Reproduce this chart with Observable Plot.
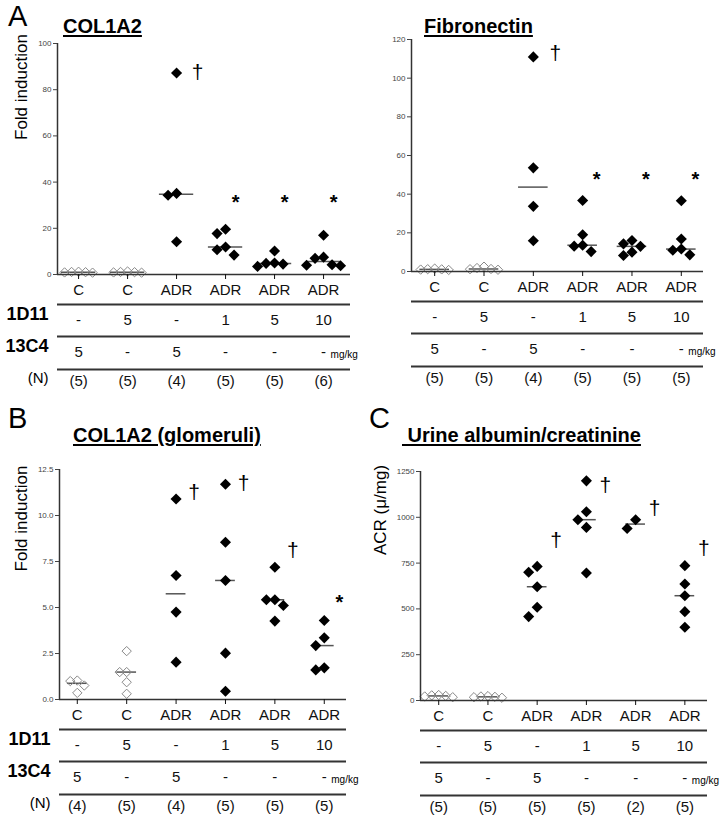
<!DOCTYPE html>
<html><head><meta charset="utf-8">
<script src="https://cdn.jsdelivr.net/npm/d3@7"></script>
<script src="https://cdn.jsdelivr.net/npm/@observablehq/plot@0.6"></script>
<style>
body{margin:0;background:#fff;}
#fig{position:relative;width:723px;height:815px;font-family:"Liberation Sans",Arial,sans-serif;overflow:hidden;background:#fff}
.abs{position:absolute;white-space:pre;line-height:1;color:#000}
.letter{font-size:29px;}
.title{font-size:20px;font-weight:bold;text-decoration:underline;text-decoration-thickness:2px;text-underline-offset:2px}
</style></head><body><div id="fig"></div>
<script>
// ---- categories / table rows ----
const groups = ["C","C","ADR","ADR","ADR","ADR"];
const dose1D11 = ["-","5","-","1","5","10"];
const dose13C4 = ["5","-","5","-","-","-"];

// ---- series values (one list per group) ----
const col1a2 = [
  [1.2, 0.8, 1.0, 0.9, 1.1],
  [1.1, 0.9, 1.3, 0.8, 1.0],
  [87.2, 35.1, 34.3, 14.2],
  [19.6, 17.7, 11.9, 10.7, 8.4],
  [10.2, 5.0, 4.8, 4.5, 3.5],
  [17.0, 7.5, 7.0, 4.2, 4.0, 3.8]
];
const fibronectin = [
  [1.0, 1.5, 0.8, 1.2, 1.1],
  [1.3, 2.5, 0.9, 1.8, 1.2],
  [111, 53.6, 33.7, 15.9],
  [36.7, 19.0, 13.6, 13.1, 10.3],
  [16.0, 14.3, 13.0, 10.0, 8.3],
  [36.6, 16.8, 11.6, 11.0, 8.6]
];
const col1a2Glom = [
  [1.0, 1.03, 0.76, 0.36],
  [2.63, 1.49, 1.49, 0.94, 0.31],
  [10.9, 6.74, 4.75, 2.03],
  [11.7, 8.55, 6.47, 2.52, 0.45],
  [7.19, 5.42, 5.42, 5.11, 4.26],
  [4.29, 3.35, 2.93, 1.72, 1.61]
];
const acr = [
  [25, 30, 18, 28, 22],
  [18, 24, 15, 22, 20],
  [732, 700, 621, 509, 458],
  [1199, 1030, 987, 945, 696],
  [987, 939],
  [736, 636, 572, 485, 400]
];

// ---- significance marks (group index, symbol, value level) ----
const sigCol1a2 = [{g:2,s:"†",y:87.4},{g:3,s:"*",y:33.3},{g:4,s:"*",y:33.3},{g:5,s:"*",y:33.3}];
const sigFibro = [{g:2,s:"†",y:112.8},{g:3,s:"*",y:50.2},{g:4,s:"*",y:50.2},{g:5,s:"*",y:50.2}];
const sigGlom = [{g:2,s:"†",y:11.25},{g:3,s:"†",y:11.74},{g:4,s:"†",y:8.1},{g:5,s:"*",y:5.54}];
const sigAcr = [{g:2,s:"†",y:873},{g:3,s:"†",y:1174},{g:4,s:"†",y:1048},{g:5,s:"†",y:830}];

// ---- tick labels ----
const ticksCol1a2 = [0,20,40,60,80,100];
const ticksFibro = [0,20,40,60,80,100,120];
const ticksGlom = [0,2.5,5,7.5,10,12.5];
const ticksAcr = [0,250,500,750,1000,1250];

const FONT = '"Liberation Sans", Arial, sans-serif';

function jitter(vals, pxY, step, h) {
  const order = d3.range(vals.length).sort((a,b)=>vals[b]-vals[a]);
  const placed = [], off = new Array(vals.length);
  for (const k of order) {
    const py = vals[k]*pxY;
    for (let j=0;j<40;j++) {
      const s = j===0 ? 0 : (j%2 ? -Math.ceil(j/2) : j/2);
      const dx = s*step;
      if (!placed.some(p => Math.abs(p.dx-dx) < step*0.99 && Math.abs(p.py-py) < h)) {
        placed.push({dx, py}); off[k] = dx; break;
      }
    }
  }
  return off;
}

function panel(c) {
  const fw = c.width - c.mL - c.mR, fh = c.height - c.mT - c.mB;
  const pxY = fh/(c.yDomain[1]-c.yDomain[0]), pxX = fw/(c.xDomain[1]-c.xDomain[0]);
  const pts = [];
  c.values.forEach((vals, i) => {
    const open = groups[i] === "C";
    const off = jitter(vals, pxY, open ? 7 : 8.5, 10);
    vals.forEach((v,k) => pts.push({i, v, x: i + off[k]/pxX, open}));
  });
  const meds = c.values.map((vals,i)=>({i, m: d3.median(vals)}));
  const cats = d3.range(groups.length);
  const nLabels = c.values.map(v => `(${v.length})`);
  const y0 = c.yDomain[0];
  const marks = [
    Plot.ruleY(meds, {x1: d=>d.i-c.medHalf, x2: d=>d.i+c.medHalf, y:"m", stroke:"#555", strokeWidth:1.5}),
    Plot.dot(pts.filter(d=>d.open), {x:"x", y:"v", symbol:"diamond2", r:4.2, stroke:"#888", fill:"none", strokeWidth:1}),
    Plot.dot(pts.filter(d=>!d.open), {x:"x", y:"v", symbol:"diamond2", r:5, fill:"#000", stroke:"none"}),
    Plot.ruleY([y0], {stroke:"#333", strokeWidth:1.5}),
    Plot.ruleX([c.xDomain[0]], {y1: ()=>c.yDomain[0], y2: ()=>c.yDomain[1], stroke:"#333", strokeWidth:1.5}),
    Plot.axisY({ticks: c.yTicks, tickFormat: c.yFmt, tickSize: 4, tickPadding: 2, fontSize: 8, color: "#444", label: null}),
    Plot.axisX({ticks: cats, tickFormat: i => groups[i], tickSize: 5, tickPadding: 5, fontSize: 15, color: "#111", label: null}),
    Plot.axisX({ticks: cats, tickFormat: i => dose1D11[i], tickSize: 0, tickPadding: 40, fontSize: 15, color: "#111", label: null}),
    Plot.axisX({ticks: cats, tickFormat: i => dose13C4[i], tickSize: 0, tickPadding: 72, fontSize: 15, color: "#111", label: null}),
    Plot.axisX({ticks: cats, tickFormat: i => nLabels[i], tickSize: 0, tickPadding: 101, fontSize: 15, color: "#111", label: null}),
    Plot.ruleY([y0], {dy: 30, stroke:"#333", strokeWidth:1.8}),
    Plot.ruleY([y0], {dy: 62, stroke:"#333", strokeWidth:1.8}),
    Plot.ruleY([y0], {dy: 95, stroke:"#333", strokeWidth:1.8}),
    Plot.text(["mg/kg"], {x: () => groups.length-1, frameAnchor:"bottom", dx: 7, dy: 83, textAnchor:"start", fontSize: 10}),
    Plot.text(c.sig.filter(d=>d.s==="†"), {x:"g", y:"y", text:"s", dx: c.daggerDx, fontSize: 21}),
    Plot.text(c.sig.filter(d=>d.s==="*"), {x:"g", y:"y", text:"s", dx: c.starDx, dy: 5, fontSize: 20, fontWeight:"bold"})
  ];
  if (c.ylabel) marks.push(Plot.text([c.ylabel], {frameAnchor:"left", rotate:-90, dx: c.ylDx, dy: c.ylDy, fontSize: 17}));
  if (c.rowLabels) {
    marks.push(Plot.text(["1D11"], {frameAnchor:"bottom-left", dx:-9, dy:45, textAnchor:"end", fontSize:18, fontWeight:"bold"}));
    marks.push(Plot.text(["13C4"], {frameAnchor:"bottom-left", dx:-9, dy:77, textAnchor:"end", fontSize:18, fontWeight:"bold"}));
    marks.push(Plot.text(["(N)"], {frameAnchor:"bottom-left", dx:-9, dy:108, textAnchor:"end", fontSize:15}));
  }
  const svg = Plot.plot({
    width: c.width, height: c.height,
    marginLeft: c.mL, marginRight: c.mR, marginTop: c.mT, marginBottom: c.mB,
    x: {type:"linear", domain: c.xDomain},
    y: {domain: c.yDomain},
    style: {fontFamily: FONT, background: "transparent", overflow: "visible", color: "#000"},
    marks
  });
  const wrap = document.createElement("div");
  wrap.className = "abs";
  wrap.style.left = c.left + "px"; wrap.style.top = c.top + "px";
  wrap.appendChild(svg);
  document.getElementById("fig").appendChild(wrap);
}

panel({values: col1a2, yDomain:[0,100], yTicks: ticksCol1a2, yFmt: d3.format("d"),
  left:0, top:0, width:360, height:400, mL:57, mR:10, mT:43, mB:126, xDomain:[-0.43,5.55],
  sig: sigCol1a2, daggerDx: 21, starDx: 10, medHalf: 0.35, ylabel: "Fold induction", ylDx:-36, ylDy:-19, rowLabels:true});
panel({values: fibronectin, yDomain:[0,120], yTicks: ticksFibro, yFmt: d3.format("d"),
  left:360, top:0, width:363, height:400, mL:51, mR:20, mT:39, mB:129, xDomain:[-0.47,5.45],
  sig: sigFibro, daggerDx: 22, starDx: 14, medHalf: 0.3, ylabel: null, rowLabels:false});
panel({values: col1a2Glom, yDomain:[0,12.5], yTicks: ticksGlom, yFmt: d3.format(".1f"),
  left:0, top:400, width:360, height:415, mL:59, mR:14, mT:69, mB:116, xDomain:[-0.36,5.45],
  sig: sigGlom, daggerDx: 18, starDx: 15, medHalf: 0.2, ylabel: "Fold induction", ylDx:-38, ylDy:-13, rowLabels:true});
panel({values: acr, yDomain:[0,1250], yTicks: ticksAcr, yFmt: d3.format("d"),
  left:360, top:400, width:363, height:415, mL:60, mR:16, mT:71, mB:115, xDomain:[-0.37,5.46],
  sig: sigAcr, daggerDx: 19, starDx: 15, medHalf: 0.2, ylabel: "ACR (μ/mg)", ylDx:-40, ylDy:-31, rowLabels:false});

// ---- panel letters and titles ----
const labels = [
  {t:"A", cls:"letter", x:8, y:2},
  {t:"B", cls:"letter", x:8, y:404},
  {t:"C", cls:"letter", x:369, y:404},
  {t:"COL1A2", cls:"title", x:63, y:16},
  {t:"Fibronectin", cls:"title", x:424, y:16},
  {t:"COL1A2 (glomeruli)", cls:"title", x:73, y:425},
  {t:" Urine albumin/creatinine", cls:"title", x:402, y:425}
];
for (const l of labels) {
  const d = document.createElement("div");
  d.className = "abs " + l.cls;
  d.style.left = l.x + "px"; d.style.top = l.y + "px";
  d.textContent = l.t;
  document.getElementById("fig").appendChild(d);
}
</script></body></html>
